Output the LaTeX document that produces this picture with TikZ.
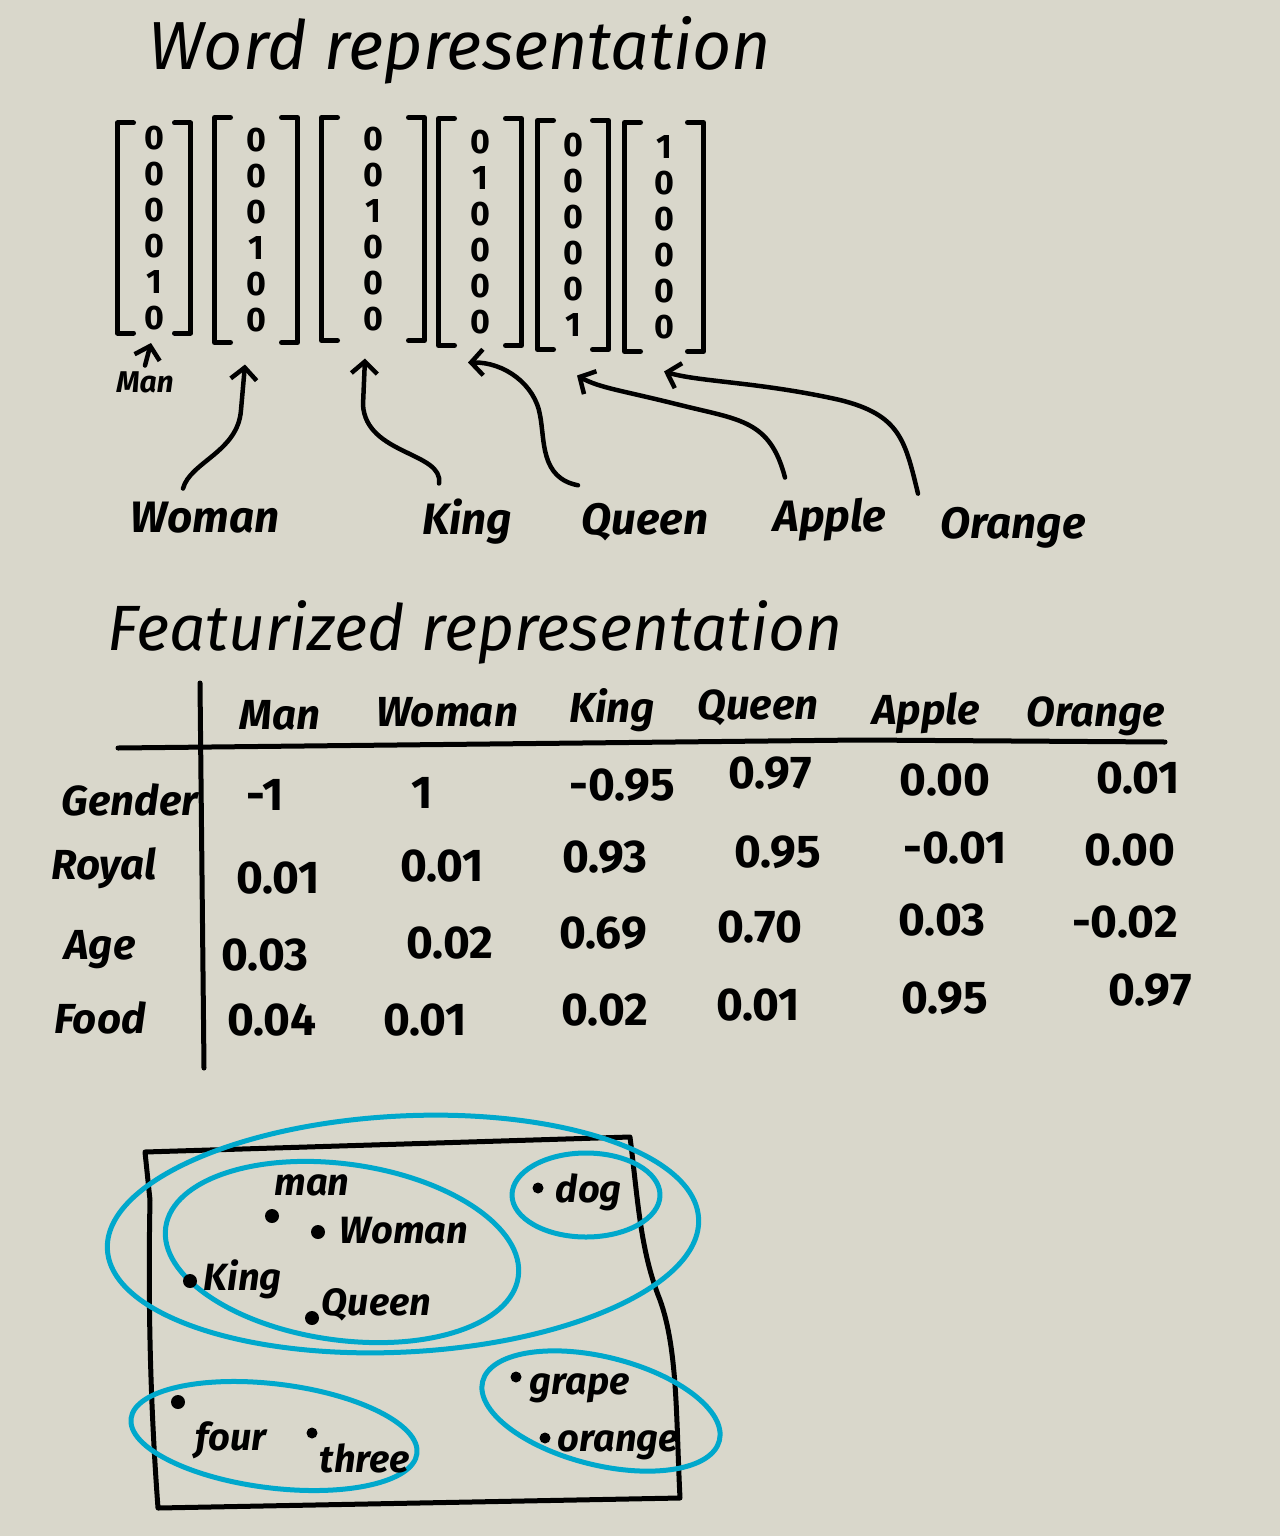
\documentclass[tikz,border=0pt]{standalone}
\usepackage{fontspec}
\setmainfont{Fira Sans}
\usetikzlibrary{arrows.meta,calc}
\definecolor{bg}{RGB}{217,215,203}
\definecolor{cy}{RGB}{0,168,204}
\begin{document}
\begin{tikzpicture}[x=1pt,y=-1pt, line width=5pt, line cap=round, line join=round,
  vec/.style={align=center, font=\fontsize{34}{36}\selectfont\bfseries, inner sep=0pt},
  title/.style={font=\fontsize{68}{72}\selectfont\itshape, anchor=center},
  lab/.style={font=\fontsize{44}{48}\selectfont\itshape\bfseries},
  head/.style={font=\fontsize{42}{46}\selectfont\itshape\bfseries},
  rowlab/.style={font=\fontsize{42}{46}\selectfont\itshape\bfseries},
  num/.style={font=\fontsize{46}{50}\selectfont\bfseries},
  word/.style={font=\fontsize{38}{42}\selectfont\itshape\bfseries},
  arr/.style={-{Straight Barb[length=12pt,width=26pt]}, line width=4.5pt},
  ring/.style={draw=cy, line width=5pt},
  pt/.style={circle, fill=black, inner sep=0pt, minimum size=14pt}
]
\fill[bg] (0,0) rectangle (1280,1536);
\useasboundingbox (0,0) rectangle (1280,1536);

% ---------- Word representation ----------
\node[title] (t1) at (460,50) {Word representation};

\node[vec, minimum width=68pt, minimum height=205pt] (vman)    at (154,228) {0\\0\\0\\0\\1\\0};
\node[vec, minimum width=78pt, minimum height=220pt] (vwoman)  at (256,230) {0\\0\\0\\1\\0\\0};
\node[vec, minimum width=98pt, minimum height=218pt] (vking)   at (373,229) {0\\0\\1\\0\\0\\0};
\node[vec, minimum width=78pt, minimum height=222pt] (vqueen)  at (480,232) {0\\1\\0\\0\\0\\0};
\node[vec, minimum width=66pt, minimum height=224pt] (vapple)  at (573,235) {0\\0\\0\\0\\0\\1};
\node[vec, minimum width=74pt, minimum height=224pt] (vorange) at (664,237) {1\\0\\0\\0\\0\\0};

\foreach \n in {vman,vwoman,vking,vqueen,vapple,vorange}{
  \draw ([xshift=16pt]\n.north west) -- (\n.north west) -- (\n.south west) -- ([xshift=16pt]\n.south west);
  \draw ([xshift=-16pt]\n.north east) -- (\n.north east) -- (\n.south east) -- ([xshift=-16pt]\n.south east);
}

\node[font=\fontsize{30}{32}\selectfont\itshape\bfseries] (lman) at (145,382) {Man};
\node[lab] (lwoman)  at (205,518) {Woman};
\node[lab] (lking)   at (467,522) {King};
\node[lab] (lqueen)  at (645,522) {Queen};
\node[lab] (lapple)  at (830,520) {Apple};
\node[lab] (lorange) at (1013,528) {Orange};

\coordinate (tman)    at ($(vman.south)+(-3,10)$);
\coordinate (twoman)  at ($(vwoman.south)+(-11,22)$);
\coordinate (tking)   at ($(vking.south)+(-8,18)$);
\coordinate (tqueen)  at ($(vqueen.south)+(-12,17)$);
\coordinate (tapple)  at ($(vapple.south)+(4,26)$);
\coordinate (torange) at ($(vorange.south)+(0,20)$);

\draw[arr] (lman.north) -- (tman);
\draw[arr] ($(lwoman.north)+(-22,-8)$) .. controls (190,462) and (238,452) .. (241,410) -- (twoman);
\draw[arr] ($(lking.north)+(-28,-10)$) .. controls (444,452) and (366,455) .. (363,405) -- (tking);
\draw[arr] ($(lqueen.north)+(-67,-12)$) .. controls (540,478) and (545,440) .. (540,415) .. controls (535,385) and (505,362) .. (tqueen);
\draw[arr] ($(lapple.north)+(-45,-15)$) .. controls (770,420) and (740,420) .. (680,405) .. controls (620,390) and (600,388) .. (tapple);
\draw[arr] ($(lorange.north)+(-95,-8)$) .. controls (905,440) and (900,415) .. (840,400) .. controls (760,382) and (700,382) .. (torange);

% ---------- Featurized representation ----------
\node[title, font=\fontsize{64}{70}\selectfont\itshape] (t2) at (475,632) {Featurized representation};

\draw (118,748) -- (860,740) -- (1165,742);
\draw (200,683) -- (204,1068);

\node[head] (hman)    at (280,715) {Man};
\node[head] (hwoman)  at (447,712) {Woman};
\node[head] (hking)   at (612,710) {King};
\node[head] (hqueen)  at (758,708) {Queen};
\node[head] (happle)  at (926,713) {Apple};
\node[head] (horange) at (1096,716) {Orange};

\node[rowlab] (rg) at (130,800) {Gender};
\node[rowlab] (rr) at (104,868) {Royal};
\node[rowlab] (ra) at (100,950) {Age};
\node[rowlab] (rf) at (100,1018) {Food};

% Gender
\node[num] at (265,795) {-1};
\node[num] at (422,793) {1};
\node[num] at (622,785) {-0.95};
\node[num] at (770,773) {0.97};
\node[num] at (945,780) {0.00};
\node[num] at (1138,778) {0.01};
% Royal
\node[num] at (278,878) {0.01};
\node[num] at (442,866) {0.01};
\node[num] at (605,857) {0.93};
\node[num] at (778,852) {0.95};
\node[num] at (955,848) {-0.01};
\node[num] at (1130,850) {0.00};
% Age
\node[num] at (265,955) {0.03};
\node[num] at (450,943) {0.02};
\node[num] at (603,933) {0.69};
\node[num] at (760,927) {0.70};
\node[num] at (942,920) {0.03};
\node[num] at (1125,922) {-0.02};
% Food
\node[num] at (272,1020) {0.04};
\node[num] at (425,1020) {0.01};
\node[num] at (605,1010) {0.02};
\node[num] at (758,1005) {0.01};
\node[num] at (945,998) {0.95};
\node[num] at (1150,990) {0.97};

% ---------- Embedding space sketch ----------
\draw (145,1152) -- (630,1137) .. controls (638,1200) and (640,1250) .. (660,1300) .. controls (678,1350) and (676,1420) .. (680,1498) -- (158,1508) .. controls (150,1400) and (148,1300) .. (150,1200) -- cycle;

\draw[ring, rotate around={3:(403,1234)}] (403,1234) ellipse [x radius=296, y radius=118];
\draw[ring, rotate around={-8:(342,1252)}] (342,1252) ellipse [x radius=178, y radius=88];
\draw[ring] (586,1195) ellipse [x radius=74, y radius=42];
\draw[ring, rotate around={-7:(274,1436)}] (274,1436) ellipse [x radius=144, y radius=52];
\draw[ring, rotate around={-14:(601,1411)}] (601,1411) ellipse [x radius=122, y radius=54];

\node[word] (wman) at (312,1185) {man};
\node[pt] (dman) at (272,1216) {};
\node[pt] (dwoman) at (318,1232) {};
\node[word, anchor=west] (wwoman) at (334,1231) {Woman};
\node[pt] (dking) at (190,1281) {};
\node[word, anchor=west] (wking) at (198,1279) {King};
\node[pt] (dqueen) at (312,1318) {};
\node[word, anchor=west] (wqueen) at (316,1305) {Queen};
\node[pt, minimum size=11pt] (ddog) at (538,1188) {};
\node[word, anchor=west] (wdog) at (550,1192) {dog};
\node[pt] (dfour) at (178,1402) {};
\node[word, anchor=west] (wfour) at (190,1440) {four};
\node[pt, minimum size=11pt] (dthree) at (312,1433) {};
\node[word, anchor=west] (wthree) at (314,1458) {three};
\node[pt, minimum size=11pt] (dgrape) at (516,1377) {};
\node[word, anchor=west] (wgrape) at (524,1388) {grape};
\node[pt, minimum size=11pt] (dorange) at (545,1438) {};
\node[word, anchor=west] (worange) at (552,1445) {orange};
\end{tikzpicture}
\end{document}
